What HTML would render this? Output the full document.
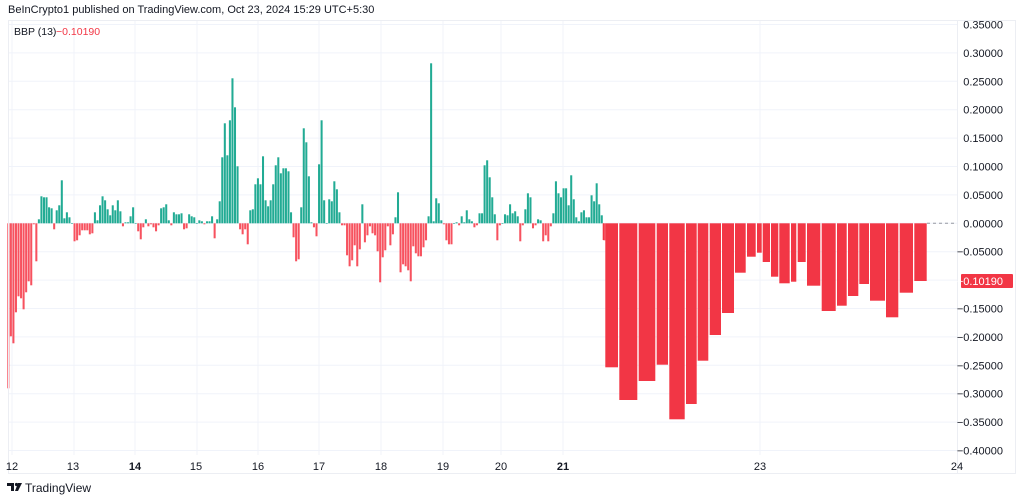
<!DOCTYPE html>
<html><head><meta charset="utf-8"><style>
body{margin:0;background:#fff;width:1024px;height:501px;overflow:hidden;font-family:"Liberation Sans",sans-serif;}
svg{position:absolute;left:0;top:0}
</style></head><body>
<svg id="c" width="1024" height="501" xmlns="http://www.w3.org/2000/svg" font-family="Liberation Sans, sans-serif">
<text x="8" y="13" font-size="11" fill="#131722">BeInCrypto1 published on TradingView.com, Oct 23, 2024 15:29 UTC+5:30</text>
</svg>
<script>
var s=document.getElementById('c'),h='';
function R(x,y,w,hh,f){h+='<rect x="'+x.toFixed(2)+'" y="'+y.toFixed(2)+'" width="'+w.toFixed(2)+'" height="'+Math.max(hh,0.6).toFixed(2)+'" fill="'+f+'"/>';}
var Z=223.3;
for(var v=0.35;v>=-0.4001;v-=0.05){var y=Z-v*568;h+='<line x1="8" x2="957" y1="'+y+'" y2="'+y+'" stroke="#f0f3fa" stroke-width="1"/>';}
var xs=[12,74,135,197,258,319,381,443,501,563,760];
xs.forEach(function(x){h+='<line x1="'+x+'" x2="'+x+'" y1="20" y2="455" stroke="#f0f3fa"/>';});
var a=[-165,-113,-120,-89,-73,-75,-86,-69,-58,-62,-1,-38,4,27,26,26,16,15,-6,13,18,43,5,11,6,0,-18,-17,-12,-7,-7,-7,-11,-10,11,3,18,27,23,14,8,18,13,23,12,-3,1,1,7,16,0,-8,-16,-4,4,-3,-1,-4,-8,-2,15,16,19,3,-2,11,9,9,10,-6,-5,9,7,6,0,3,2,-1,2,2,7,-15,4,22,66,100,68,103,145,116,57,-6,-11,-6,-21,13,14,39,45,39,67,23,17,23,39,58,66,50,55,55,52,11,-14,-38,-36,16,95,81,47,1,-4,-13,59,103,
23,0,24,22,42,34,11,-2,-2,-32,-43,-37,-22,-43,-26,19,-19,-12,-3,-10,-12,-28,-59,-34,-27,-3,-22,-11,6,31,-49,-41,-43,-47,-58,-23,-30,-33,-33,-24,-17,7,160,2,25,20,3,-1,-17,-21,-21,0,1,-2,7,1,13,4,2,-4,-2,10,10,58,63,46,26,9,-17,-2,0,9,8,19,10,12,7,-18,-2,14,30,26,-5,-2,4,3,-18,-12,-18,-3,10,42,30,26,35,35,18,48,24,6,2,11,13,6,6,28,22,40,19,8,-17];
var N=a.length,st=(603.3-7.3)/(N-1);
for(var i=0;i<N;i++){var x=7.3+i*st,v=a[i];if(v>=0)R(x,Z-v,st*0.8,v,'#22ab94');else R(x,Z,st*0.8,-v,'#f7525f');}
var b=[[602.7,604,240],[605.3,618,367.3],[619.3,637.3,400],[638.7,655.3,381],[656.7,668,364.7],[669.3,684.7,419.3],[686,696.7,404],[697.7,708.3,360.7],[709.7,721,335],[722,734,313],[735,745.7,272.7],[747,755.7,256.7],[757,761.7,252.7],[762.7,770,262],[771,778.3,276.7],[779.3,789.7,283.3],[791,796.3,281.7],[797.7,805.7,262],[807,820.3,285.7],[821.7,835.7,311],[837,846.7,305.7],[848,858.3,296],[859.3,869,284],[870,885,300.7],[886,898.3,317.3],[899.7,913,292.7],[914.3,926.7,281]];
b.forEach(function(q){R(q[0],Z,q[1]-q[0],q[2]-Z,'#f23645');});
h+='<line x1="927" x2="957" y1="'+Z+'" y2="'+Z+'" stroke="#9598a1" stroke-dasharray="3,3"/>';
h+='<line x1="8" x2="1016" y1="20.5" y2="20.5" stroke="#eceef3"/>';
h+='<line x1="957.5" x2="957.5" y1="20" y2="474" stroke="#eceef3"/>';
h+='<line x1="1015.5" x2="1015.5" y1="20" y2="474" stroke="#eceef3"/>';
h+='<line x1="8.5" x2="8.5" y1="20" y2="474" stroke="#eceef3"/>';
h+='<line x1="8" x2="1016" y1="473.5" y2="473.5" stroke="#eceef3"/>';
var labs=['0.35000','0.30000','0.25000','0.20000','0.15000','0.10000','0.05000','0.00000','\u22120.05000','\u22120.10000','\u22120.15000','\u22120.20000','\u22120.25000','\u22120.30000','\u22120.35000','\u22120.40000'];
labs.forEach(function(t,k){if(k==9)return;var y=Z-(0.35-k*0.05)*568+4;h+='<text x="1003" y="'+y+'" font-size="11" fill="#131722" text-anchor="end">'+t+'</text>';});
h+='<rect x="961" y="274" width="52" height="14" rx="1" fill="#f23645"/><text x="1003" y="285" font-size="11" fill="#fff" text-anchor="end">\u22120.10190</text>';
var xl=[[12,'12'],[73,'13'],[135,'14',1],[196,'15'],[258,'16'],[319,'17'],[381,'18'],[443,'19'],[501,'20'],[563,'21',1],[760,'23'],[957,'24']];
xl.forEach(function(q){h+='<text x="'+q[0]+'" y="470" font-size="11" fill="#131722" text-anchor="middle"'+(q[2]?' font-weight="bold"':'')+'>'+q[1]+'</text>';});
h+='<text x="14" y="35" font-size="10.5" fill="#131722">BBP (13)</text><text x="56" y="35" font-size="10.5" fill="#f23645">\u22120.10190</text>';
h+='<path d="M7 483h7v8h-3v-5h-4z" fill="#131722"/><circle cx="16.5" cy="484.5" r="1.6" fill="#131722"/><path d="M18 483h4l-4 8h-3z" fill="#131722"/>';
h+='<text x="25" y="492" font-size="12" fill="#131722">TradingView</text>';
s.insertAdjacentHTML('beforeend',h);
</script>
</body></html>
